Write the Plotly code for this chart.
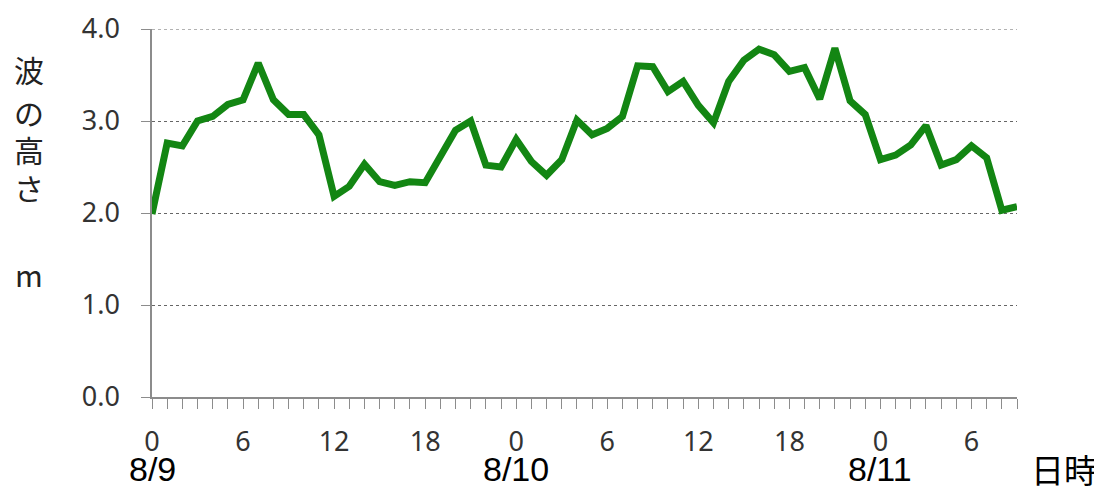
import plotly.graph_objects as go

hours = list(range(58))
wave_m = [1.99, 2.76, 2.73, 3.00, 3.05, 3.18, 3.23, 3.63, 3.23, 3.07,
          3.07, 2.85, 2.18, 2.29, 2.53, 2.34, 2.30, 2.34, 2.33, 2.60,
          2.90, 3.00, 2.52, 2.50, 2.80, 2.56, 2.41, 2.58, 3.01, 2.85,
          2.92, 3.05, 3.60, 3.59, 3.32, 3.43, 3.17, 2.98, 3.43, 3.66,
          3.78, 3.72, 3.54, 3.58, 3.24, 3.79, 3.22, 3.07, 2.58, 2.63,
          2.74, 2.95, 2.52, 2.58, 2.73, 2.60, 2.03, 2.07]
tick_hours = [0, 6, 12, 18, 24, 30, 36, 42, 48, 54]
tick_text = ["0", "6", "12", "18", "0", "6", "12", "18", "0", "6"]
date_hours = [0, 24, 48]
date_text = ["8/9", "8/10", "8/11"]
y_ticks = [0, 1, 2, 3, 4]
y_text = ["0.0", "1.0", "2.0", "3.0", "4.0"]
y_title_chars = ["波", "の", "高", "さ", "m"]
x_title = "日時"

# plot area in screen pixels (page has an 8px body margin)
PL, PR, PT, PB = 152, 1017, 29, 397
PW, PH = PR - PL, PB - PT
FW, FH = 1094, 478

fig = go.Figure()
fig.add_trace(go.Scatter(x=hours, y=wave_m, mode="lines",
                         line=dict(color="#138613", width=7), hoverinfo="skip"))

fig.update_layout(
    width=FW, height=FH,
    margin=dict(l=PL - 8, r=FW - (PR - 8), t=PT - 8, b=FH - (PB - 8)),
    paper_bgcolor="white", plot_bgcolor="white",
    showlegend=False,
    font=dict(family="Noto Sans, DejaVu Sans, sans-serif", color="#333333"),
)
fig.update_xaxes(
    automargin=False,
    range=[0, 57], tickvals=tick_hours, ticktext=tick_text,
    showgrid=False, zeroline=False,
    showline=True, linecolor="#8c8c8c", linewidth=1.5,
    ticks="outside", ticklen=10, tickcolor="#8c8c8c", tickwidth=1,
    minor=dict(dtick=1, tick0=0, ticks="outside", ticklen=10, tickcolor="#8c8c8c", tickwidth=1, showgrid=False),
    tickfont=dict(size=27, color="#333333", family="Noto Sans, sans-serif"),
    ticklabelstandoff=10,
)
fig.update_yaxes(
    automargin=False,
    range=[0, 4], tickvals=y_ticks, ticktext=y_text,
    showgrid=True, gridcolor="#666666", griddash="dot", gridwidth=1.2,
    zeroline=False,
    showline=True, linecolor="#8c8c8c", linewidth=1.5,
    ticks="outside", ticklen=9, tickcolor="#8c8c8c",
    tickfont=dict(size=27, color="#333333", family="Noto Sans, sans-serif"),
    ticklabelstandoff=16,
)
# top gridline (plotly skips the grid line at the range edge)
fig.add_shape(type="line", xref="paper", yref="y", x0=0, x1=1, y0=y_ticks[-1], y1=y_ticks[-1],
              line=dict(color="#666666", width=1.2, dash="dot"), layer="below")

for h, t in zip(date_hours, date_text):
    fig.add_annotation(x=h, y=(PB - 469) / PH, xref="x", yref="paper", text=t, showarrow=False,
                       xanchor="center", yanchor="middle", borderpad=0,
                       font=dict(size=34, color="#000000", family="Liberation Sans, Arial, sans-serif"))
fig.add_annotation(x=(1064 - PL) / PW, y=(PB - 469) / PH, xref="paper", yref="paper", text=x_title,
                   showarrow=False, xanchor="center", yanchor="middle", borderpad=0,
                   font=dict(size=33, color="#000000", family="Noto Sans CJK JP, sans-serif"))

title_y_px = [69, 112, 149, 187, 274]
for ch, py in zip(y_title_chars, title_y_px):
    fig.add_annotation(x=(29 - PL) / PW, y=(PB - py) / PH, xref="paper", yref="paper", text=ch,
                       showarrow=False, xanchor="center", yanchor="middle",
                       font=dict(size=30, color="#222222", family="Noto Sans CJK JP, sans-serif"))

fig.write_html("out.html")
